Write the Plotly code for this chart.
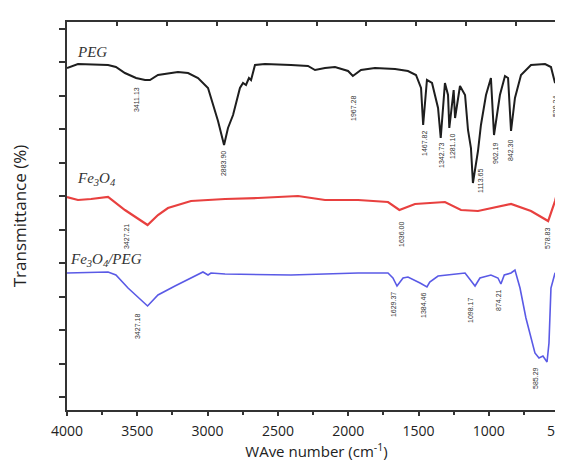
import plotly.graph_objects as go

# ---------------- data ----------------
peg_wn = [4000, 3922, 3708, 3652, 3588, 3509, 3445, 3410, 3353, 3211, 3139, 3068, 2997, 2962,
          2926, 2883, 2855, 2819, 2770, 2748, 2727, 2706, 2691, 2663, 2592, 2407, 2286, 2236,
          2165, 2094, 2001, 1967, 1909, 1810, 1667, 1575, 1518, 1482, 1467, 1440, 1404, 1361,
          1342, 1312, 1290, 1281, 1250, 1240, 1205, 1169, 1148, 1127, 1113, 1077, 1056, 1020,
          985, 963, 921, 885, 863, 842, 814, 771, 700, 600, 558, 529, 494, 458]
peg_t = [342, 346, 345, 343, 337, 332, 330, 330, 335, 338, 337, 332, 322, 305,
         289, 265, 282, 295, 322, 327, 325, 332, 330, 345, 346, 345, 344, 340,
         342, 343, 339, 334, 340, 342, 341, 339, 335, 322, 285, 330, 327, 302,
         272, 327, 315, 282, 320, 292, 324, 315, 280, 262, 227, 259, 285, 315,
         332, 275, 315, 334, 332, 279, 312, 335, 345, 346, 343, 327, 339, 342]

fe_wn = [4000, 3922, 3829, 3708, 3588, 3427, 3353, 3282, 3118, 2876, 2642, 2357, 2165, 1930,
         1717, 1636, 1525, 1312, 1198, 1077, 842, 700, 578, 529, 487, 458]
fe_t = [213, 210, 211, 213, 200, 185, 195, 202, 209, 211, 212, 214, 210, 210,
        208, 200, 206, 208, 200, 199, 206, 199, 189, 209, 232, 236]

fepeg_wn = [4000, 3708, 3652, 3566, 3427, 3353, 3232, 3118, 3033, 2997, 2976, 2876, 2407, 1930,
            1717, 1682, 1653, 1610, 1575, 1489, 1440, 1420, 1361, 1169, 1127, 1098, 1063, 985,
            935, 914, 890, 842, 814, 778, 736, 700, 672, 643, 615, 586, 572, 558, 529, 494, 458]
fepeg_t = [137, 138, 135, 122, 104, 115, 124, 132, 138, 135, 137, 136, 135, 137,
           137, 132, 124, 132, 133, 127, 123, 128, 134, 137, 130, 124, 132, 135,
           132, 126, 135, 137, 140, 122, 92, 72, 57, 52, 54, 48, 67, 122, 137, 132, 104]

# peak labels: text, x position (cm-1), y position (transmittance units)
peg_lbl = ["3411.13", "2883.90", "1967.28", "1467.82", "1342.73", "1281.10", "1113.65",
           "962.19", "842.30", "529.24"]
peg_lbl_x = [3509, 2890, 1966, 1461, 1340, 1262, 1063, 956, 849, 529]
peg_lbl_y = [310, 246, 302, 267, 254, 264, 229, 257, 260, 304]

fe_lbl = ["3427.21", "1636.00", "578.83"]
fe_lbl_x = [3580, 1625, 586]
fe_lbl_y = [173, 176, 172]

fepeg_lbl = ["3427.18", "1629.37", "1384.46", "1098.17", "874.21", "585.29"]
fepeg_lbl_x = [3502, 1681, 1468, 1134, 935, 672]
fepeg_lbl_y = [83, 105, 104, 100, 110, 32]

series_names = ["<i>PEG</i>", "<i>Fe<sub>3</sub>O<sub>4</sub></i>",
                "<i>Fe<sub>3</sub>O<sub>4</sub>/PEG</i>"]
series_name_x = [3943, 3943, 3993]
series_name_y = [358, 231, 150]

x_ticks = [4000, 3500, 3000, 2500, 2000, 1500, 1000, 500]
y_ticks = [13, 46.5, 80, 113.5, 147, 180.5, 214, 247.5, 281, 314.5, 348, 381.5]

# ---------------- figure ----------------
fig = go.Figure()
fig.add_trace(go.Scatter(x=peg_wn, y=peg_t, mode="lines",
                         line=dict(color="#1e1e1e", width=2), showlegend=False))
fig.add_trace(go.Scatter(x=fe_wn, y=fe_t, mode="lines",
                         line=dict(color="#e8403f", width=2.2), showlegend=False))
fig.add_trace(go.Scatter(x=fepeg_wn, y=fepeg_t, mode="lines",
                         line=dict(color="#5a5ae6", width=1.6), showlegend=False))
# dummy trace for mirrored top/right axes
fig.add_trace(go.Scatter(x=[0, 10], y=[0, 10], xaxis="x2", yaxis="y2", mode="lines",
                         line=dict(width=0), hoverinfo="skip", showlegend=False))

annotations = []
for lbls, xs, ys in [(peg_lbl, peg_lbl_x, peg_lbl_y), (fe_lbl, fe_lbl_x, fe_lbl_y),
                     (fepeg_lbl, fepeg_lbl_x, fepeg_lbl_y)]:
    for t, x, y in zip(lbls, xs, ys):
        annotations.append(dict(x=x, y=y, xref="x", yref="y", text=t, showarrow=False,
                                textangle=-90, font=dict(size=7, color="#333333",
                                                         family="Liberation Sans")))
for t, x, y in zip(series_names, series_name_x, series_name_y):
    annotations.append(dict(x=x, y=y, xref="x", yref="y", text=t, showarrow=False,
                            xanchor="left", yanchor="middle",
                            font=dict(size=15, color="#333333", family="Liberation Serif")))

axis_line = dict(showline=True, linecolor="#333333", linewidth=1.6, showgrid=False,
                 zeroline=False, automargin=False)

fig.update_layout(
    width=563, height=462,
    margin=dict(l=59, r=5, t=14, b=60),
    paper_bgcolor="white", plot_bgcolor="white",
    font=dict(family="Open Sans", color="#222222"),
    annotations=annotations,
    xaxis=dict(range=[4000, 451], tickvals=x_ticks, ticks="outside", ticklen=4,
               tickwidth=1.5, tickcolor="#333333",
               minor=dict(dtick=250, ticks="outside", ticklen=3, tickcolor="#333333"),
               tickfont=dict(size=14, color="#222222"), ticklabelstandoff=3,
               ticklabeloverflow="allow",
               title=dict(text="WAve number (cm<sup>-1</sup>)", font=dict(size=15),
                          standoff=0),
               **axis_line),
    yaxis=dict(range=[0, 388], tickvals=y_ticks, ticks="outside", ticklen=6,
               tickwidth=1.5, tickcolor="#333333", showticklabels=False,
               title=dict(text="Transmittance (%)", font=dict(size=17), standoff=28),
               **axis_line),
    xaxis2=dict(range=[0, 10], overlaying="x", side="top", dtick=1, ticks="inside",
                ticklen=4, tickwidth=1.5, tickcolor="#333333", showticklabels=False,
                **axis_line),
    yaxis2=dict(range=[0, 10], overlaying="y", side="right", dtick=1, ticks="inside",
                ticklen=6, tickwidth=1.5, tickcolor="#333333", showticklabels=False,
                **axis_line),
)

fig.write_html("out.html")
